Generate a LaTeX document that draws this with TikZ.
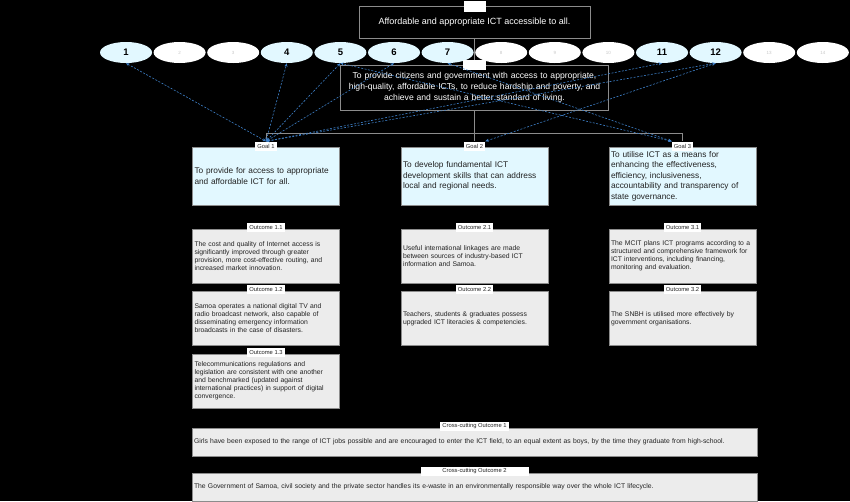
\documentclass[tikz,border=0pt]{standalone}
\usepackage{fontspec}
\setmainfont{Liberation Sans}
\usetikzlibrary{shapes.geometric,arrows.meta}
\definecolor{goalcyan}{RGB}{226,248,255}
\definecolor{outgray}{RGB}{236,236,236}
\definecolor{framegray}{RGB}{140,140,140}
\definecolor{inkdark}{RGB}{34,34,34}
\definecolor{lightnum}{RGB}{200,200,200}
\definecolor{linkblue}{RGB}{62,128,200}

\begin{document}
\begin{tikzpicture}[x=1pt,y=-1pt,
 every node/.style={align=left,text=inkdark},
 nobreak/.style={execute at begin node={\hyphenpenalty=10000\exhyphenpenalty=10000}},
 tagbox/.style={fill=white,inner xsep=2pt,inner ysep=1.2pt,minimum height=9pt,font=\fontsize{5.8}{6}\selectfont},
 goalbox/.style={nobreak,draw=framegray,fill=goalcyan,inner xsep=2pt,inner ysep=3pt,text width=143pt,minimum height=58pt,font=\fontsize{8.3}{10.5}\selectfont},
 outbox/.style={nobreak,draw=framegray,fill=outgray,inner xsep=2pt,inner ysep=3pt,text width=143pt,minimum height=54pt,font=\fontsize{6.8}{8}\selectfont},
 crossbox/.style={outbox,text width=561pt,minimum height=28pt},
 sdg/.style={ellipse,fill=white,inner sep=0pt,minimum width=52pt,minimum height=21pt,text=lightnum,font=\fontsize{4.5}{5}\selectfont},
 mapped/.style={fill=goalcyan,text=black,font=\bfseries\fontsize{9.5}{10}\selectfont},
 link/.style={draw=linkblue,line width=0.6pt,dash pattern=on 2pt off 1.5pt,arrows={Stealth[length=3.5pt,width=3pt]-Stealth[length=3.5pt,width=3pt]}},
 orgline/.style={draw=framegray,line width=0.6pt}]
\fill[black] (0,0) rectangle (850,501);
\useasboundingbox (0,0) rectangle (850,501);
% vision
\node[draw=framegray,text=white,minimum width=231pt,minimum height=32pt,font=\fontsize{9}{11}\selectfont] (vision) at (474.5,22) {Affordable and appropriate ICT accessible to all.};
\node[tagbox,minimum width=22pt,minimum height=11pt] (visiontag) at (474.5,6) {};
% goals of the sdg row
\node[sdg,mapped] (sdg1) at (126,52.5) {1};
\node[sdg] (sdg2) at (179.6,52.5) {2};
\node[sdg] (sdg3) at (233.2,52.5) {3};
\node[sdg,mapped] (sdg4) at (286.8,52.5) {4};
\node[sdg,mapped] (sdg5) at (340.4,52.5) {5};
\node[sdg,mapped] (sdg6) at (394,52.5) {6};
\node[sdg,mapped] (sdg7) at (447.6,52.5) {7};
\node[sdg] (sdg8) at (501.2,52.5) {8};
\node[sdg] (sdg9) at (554.8,52.5) {9};
\node[sdg] (sdg10) at (608.4,52.5) {10};
\node[sdg,mapped] (sdg11) at (662,52.5) {11};
\node[sdg,mapped] (sdg12) at (715.6,52.5) {12};
\node[sdg] (sdg13) at (769.2,52.5) {13};
\node[sdg] (sdg14) at (822.8,52.5) {14};
% mission
\node[draw=framegray,text=white,align=center,text width=264pt,minimum height=45pt,inner sep=2pt,font=\fontsize{8.6}{11}\selectfont] (mission) at (474.5,87.5) {To provide citizens and government with access to appropriate,\\high-quality, affordable ICTs, to reduce hardship and poverty, and\\achieve and sustain a better standard of living.};
\node[tagbox,minimum width=23pt,minimum height=10pt] (missiontag) at (474.5,65) {};
% goals
\node[goalbox] (goal1) at (266,176) {To provide for access to appropriate\\and affordable ICT for all.};
\node[tagbox] (goal1tag) at (266,146) {Goal 1};
\node[goalbox] (goal2) at (474.5,176) {To develop fundamental ICT\\development skills that can address\\local and regional needs.};
\node[tagbox] (goal2tag) at (474.5,146) {Goal 2};
\node[goalbox] (goal3) at (682.5,176) {To utilise ICT as a means for\\enhancing the effectiveness,\\efficiency, inclusiveness,\\accountability and transparency of\\state governance.};
\node[tagbox] (goal3tag) at (682.5,146) {Goal 3};
% outcomes
\node[outbox] (out11) at (266,256) {The cost and quality of Internet access is\\significantly improved through greater\\provision, more cost-effective routing, and\\increased market innovation.};
\node[tagbox] (out11tag) at (266,227) {Outcome 1.1};
\node[outbox] (out12) at (266,318.5) {Samoa operates a national digital TV and\\radio broadcast network, also capable of\\disseminating emergency information\\broadcasts in the case of disasters.};
\node[tagbox] (out12tag) at (266,289.5) {Outcome 1.2};
\node[outbox] (out13) at (266,381) {Telecommunications regulations and\\legislation are consistent with one another\\and benchmarked (updated against\\international practices) in support of digital\\convergence.};
\node[tagbox] (out13tag) at (266,352) {Outcome 1.3};
\node[outbox] (out21) at (474.5,256) {Useful international linkages are made\\between sources of industry-based ICT\\information and Samoa.};
\node[tagbox] (out21tag) at (474.5,227) {Outcome 2.1};
\node[outbox] (out22) at (474.5,318.5) {Teachers, students \& graduates possess\\upgraded ICT literacies \& competencies.};
\node[tagbox] (out22tag) at (474.5,289.5) {Outcome 2.2};
\node[outbox] (out31) at (682.5,256) {The MCIT plans ICT programs according to a\\structured and comprehensive framework for\\ICT interventions, including financing,\\monitoring and evaluation.};
\node[tagbox] (out31tag) at (682.5,227) {Outcome 3.1};
\node[outbox] (out32) at (682.5,318.5) {The SNBH is utilised more effectively by\\government organisations.};
\node[tagbox] (out32tag) at (682.5,289.5) {Outcome 3.2};
% cross-cutting
\node[crossbox] (cross1) at (474.5,442) {Girls have been exposed to the range of ICT jobs possible and are encouraged to enter the ICT field, to an equal extent as boys, by the time they graduate from high-school.};
\node[tagbox] (cross1tag) at (474.5,426) {Cross-cutting Outcome 1};
\node[crossbox] (cross2) at (474.5,487) {The Government of Samoa, civil society and the private sector handles its e-waste in an environmentally responsible way over the whole ICT lifecycle.};
\node[tagbox,minimum width=108pt] (cross2tag) at (474.5,471) {Cross-cutting Outcome 2};
% tree lines
\coordinate (split) at (474.5,133);
\draw[orgline] (vision.south) -- (missiontag.north);
\draw[orgline] (mission.south) -- (split) -| (goal1tag.north);
\draw[orgline] (split) -| (goal3tag.north);
\draw[orgline] (split) -- (goal2tag.north);
% links to the sdgs
\draw[link] (goal1tag.north) -- (sdg1.south);
\draw[link] (goal1tag.north) -- (sdg4.south);
\draw[link] (goal1tag.north) -- (sdg5.south);
\draw[link] (goal1tag.north) -- (sdg6.south);
\draw[link] (goal1tag.north) -- (sdg11.south);
\draw[link] (goal1tag.north) -- (sdg12.south);
\draw[link] (goal2tag.north east) -- (sdg12.south);
\draw[link] (goal3tag.north west) -- (sdg5.south);
\draw[link] (goal3tag.north west) -- (sdg7.south);
\end{tikzpicture}
\end{document}
